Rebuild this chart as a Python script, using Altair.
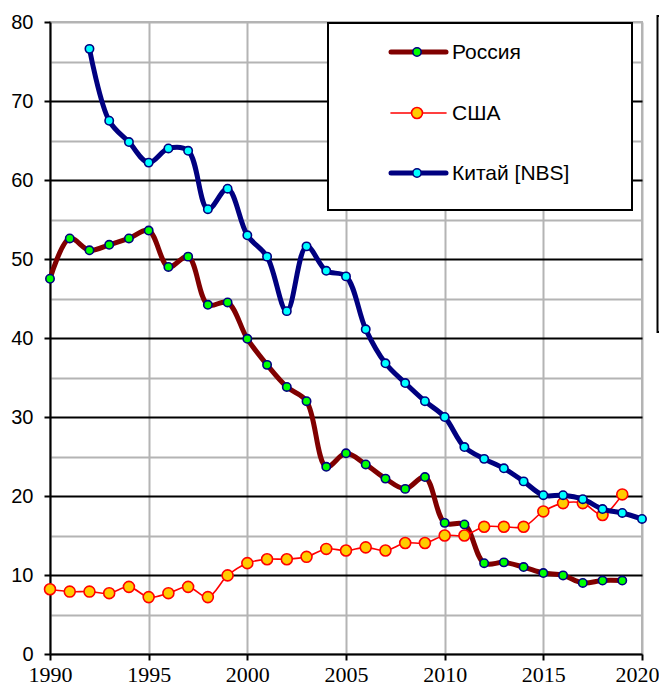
import altair as alt
import pandas as pd

years_russia = list(range(1990, 2020))
russia = [47.5, 52.6, 51.1, 51.8, 52.6, 53.6, 49.0, 50.3, 44.2, 44.5,
          39.9, 36.6, 33.8, 32.0, 23.7, 25.4, 24.0, 22.2, 20.9, 22.4,
          16.6, 16.4, 11.5, 11.6, 11.0, 10.25, 9.95, 9.0, 9.3, 9.3]

years_usa = list(range(1990, 2020))
usa = [8.2, 7.9, 7.9, 7.7, 8.5, 7.2, 7.7, 8.5, 7.2, 9.95,
       11.5, 12.0, 12.0, 12.3, 13.3, 13.1, 13.5, 13.1, 14.05, 14.05,
       15.0, 15.0, 16.1, 16.1, 16.1, 18.05, 19.1, 19.1, 17.6, 20.2]

years_china = list(range(1992, 2021))
china = [76.6, 67.5, 64.8, 62.2, 64.0, 63.7, 56.3, 58.9, 53.0, 50.3,
         43.4, 51.6, 48.5, 47.8, 41.1, 36.8, 34.3, 32.0, 30.0, 26.2,
         24.7, 23.5, 21.85, 20.1, 20.1, 19.6, 18.35, 17.85, 17.1]

series_names = ["Россия", "США", "Китай [NBS]"]
x_ticks = list(range(1990, 2021, 5))
y_ticks = list(range(0, 81, 5))

df_r = pd.DataFrame({"year": years_russia, "value": russia})
df_u = pd.DataFrame({"year": years_usa, "value": usa})
df_c = pd.DataFrame({"year": years_china, "value": china})

GRAY = "#b4b4b4"
SERIF = "Liberation Serif"
SANS = "Liberation Sans"

x_enc = alt.X("year:Q", scale=alt.Scale(domain=[1990, 2020], nice=False, zero=False),
              axis=alt.Axis(values=x_ticks, format="d", title=None,
                            labelFont=SERIF, labelFontSize=22, labelColor="black",
                            labelPadding=4, labelFlush=False, labelBaseline="top",
                            labelAlign=alt.condition("datum.value == 2020", alt.value("right"), alt.value("center")),
                            labelOffset=alt.condition("datum.value == 2020", alt.value(17), alt.value(0)),
                            grid=True, gridColor=GRAY, gridWidth=2,
                            domainColor="black", domainWidth=2,
                            tickColor="black", tickWidth=2, tickSize=6))
y_enc = alt.Y("value:Q", scale=alt.Scale(domain=[0, 80], nice=False),
              axis=alt.Axis(values=y_ticks, title=None,
                            labelExpr="datum.value % 10 == 0 ? datum.label : ''",
                            labelFont=SANS, labelFontSize=20, labelColor="black",
                            labelPadding=11, labelFlush=False,
                            grid=True,
                            gridColor=alt.condition("datum.value % 10 == 0 && datum.value > 0 && datum.value < 80",
                                                    alt.value("black"), alt.value(GRAY)),
                            gridWidth=2,
                            domainColor="black", domainWidth=2,
                            tickColor=alt.condition("datum.value % 10 == 0",
                                                    alt.value("black"), alt.value("transparent")),
                            tickWidth=2, tickSize=6))

interp = "catmull-rom"

def series(df, line_color, line_w, fill, stroke, size):
    line = alt.Chart(df).mark_line(color=line_color, strokeWidth=line_w, interpolate=interp).encode(x=x_enc, y=y_enc)
    pts = alt.Chart(df).mark_point(filled=True, fill=fill, stroke=stroke, strokeWidth=1.6,
                                   size=size, opacity=1, shape="circle").encode(x=x_enc, y=y_enc)
    return [line, pts]

layers = []
layers += series(df_r, "#800000", 5, "#00ff00", "#000080", 70)
layers += series(df_u, "#ff0000", 1.6, "#ffcc00", "#ff0000", 120)
layers += series(df_c, "#000080", 5, "#00ffff", "#000080", 70)

# legend box
leg_df = pd.DataFrame({"name": series_names})
box = alt.Chart(leg_df.head(1)).mark_rect(fill="white", stroke="black", strokeWidth=2).encode(
    x=alt.value(278), x2=alt.value(582), y=alt.value(1), y2=alt.value(188))
layers.append(box)

leg_styles = [("#800000", 5, "#00ff00", "#000080", 70),
              ("#ff0000", 1.6, "#ffcc00", "#ff0000", 120),
              ("#000080", 5, "#00ffff", "#000080", 70)]
row_y = [30, 91, 151]
for name, (lc, lw, fc, sc, sz), ry in zip(series_names, leg_styles, row_y):
    d = pd.DataFrame({"name": [name]})
    layers.append(alt.Chart(d).mark_rule(color=lc, strokeWidth=lw, strokeCap="round").encode(
        x=alt.value(341), x2=alt.value(396), y=alt.value(ry)))
    layers.append(alt.Chart(d).mark_point(filled=True, fill=fc, stroke=sc, strokeWidth=1.6,
                                          size=sz, opacity=1, shape="circle").encode(
        x=alt.value(367), y=alt.value(ry)))
    layers.append(alt.Chart(d).mark_text(align="left", baseline="middle", font=SANS,
                                         fontSize=21, color="black").encode(
        x=alt.value(402), y=alt.value(ry + 1), text="name:N"))

# partially visible neighbouring box at the right edge
edge = alt.Chart(leg_df.head(1)).mark_rect(fill="white", stroke="black", strokeWidth=2).encode(
    x=alt.value(607.5), x2=alt.value(640), y=alt.value(-6), y2=alt.value(310))
layers.append(edge)

chart = alt.layer(*layers).properties(
    width=592, height=632,
    padding={"left": 42, "top": 14, "right": 17, "bottom": 34},
    autosize=alt.AutoSizeParams(type="none"),
).configure_view(stroke=GRAY, strokeWidth=2)

chart.save("out.html", embed_options={"renderer": "svg", "actions": False})
